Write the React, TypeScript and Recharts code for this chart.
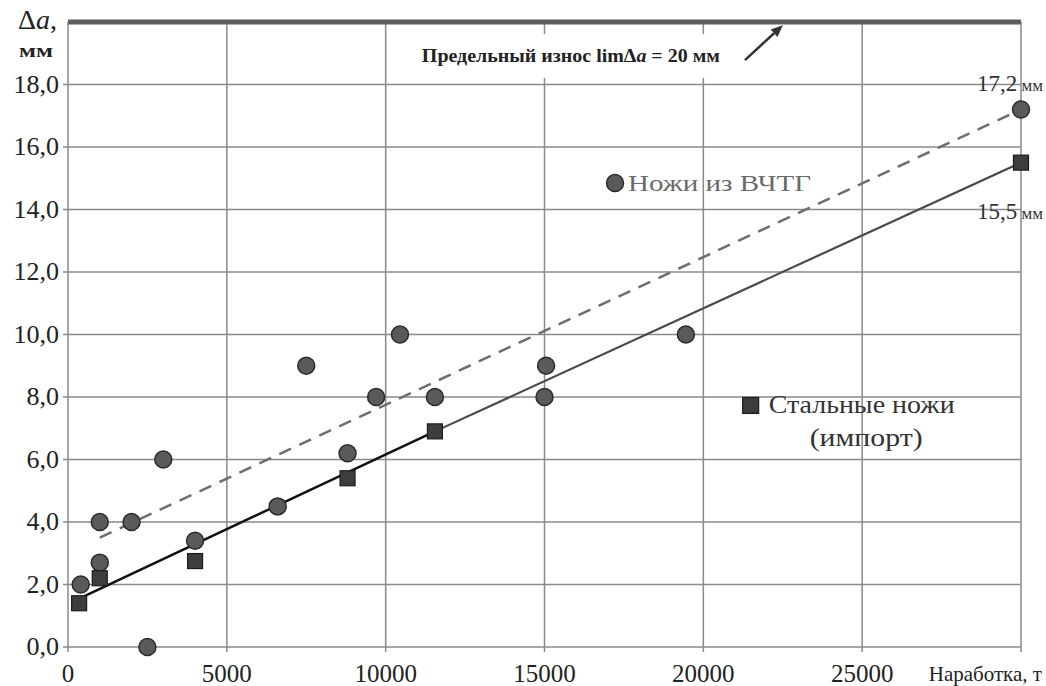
import React from 'react';
import { ComposedChart, Scatter, Line, XAxis, YAxis, CartesianGrid, ReferenceLine, ReferenceDot } from 'recharts';

const FONT = 'Liberation Serif';

// Ножи из ВЧТГ (circles)
const vchtgPoints = [
  { x: 400, y: 2.0 }, { x: 1000, y: 4.0 }, { x: 1000, y: 2.7 }, { x: 2000, y: 4.0 },
  { x: 2500, y: 0.0 }, { x: 3000, y: 6.0 }, { x: 4000, y: 3.4 }, { x: 6600, y: 4.5 },
  { x: 7500, y: 9.0 }, { x: 8800, y: 6.2 }, { x: 9700, y: 8.0 }, { x: 10450, y: 10.0 },
  { x: 11550, y: 8.0 }, { x: 15050, y: 9.0 }, { x: 15000, y: 8.0 }, { x: 19450, y: 10.0 },
  { x: 30000, y: 17.2 },
];

// Стальные ножи (импорт) (squares)
const steelPoints = [
  { x: 350, y: 1.4 }, { x: 1000, y: 2.2 }, { x: 4000, y: 2.75 }, { x: 8800, y: 5.4 },
  { x: 11550, y: 6.9 }, { x: 30000, y: 15.5 },
];

// trend lines
const vchtgTrend = [{ x: 1000, y: 3.5 }, { x: 30000, y: 17.2 }];
const steelTrendEarly = [{ x: 350, y: 1.55 }, { x: 11550, y: 6.9 }];
const steelTrendLate = [{ x: 11550, y: 6.9 }, { x: 30000, y: 15.5 }];

const xTicks = [0, 5000, 10000, 15000, 20000, 25000, 30000];
const yTicks = [0, 2, 4, 6, 8, 10, 12, 14, 16, 18];
const LIMIT = 20;
const X_TITLE = 'Наработка, т';

const fmtY = (v: number) => v.toFixed(1).replace('.', ',');

const CircleDot = ({ cx, cy }: any) => (
  <circle cx={cx} cy={cy} r={8.5} fill="#5a5a5a" stroke="#2b2b2b" strokeWidth={1.5} />
);

const SquareDot = ({ cx, cy }: any) => (
  <rect x={cx - 7.5} y={cy - 7.5} width={15} height={15} fill="#3d3d3d" stroke="#1c1c1c" strokeWidth={1.2} />
);

const XTick = ({ x, y, payload }: any) => {
  if (payload.value === 30000) {
    return (
      <text x={x + 21} y={y + 27} textAnchor="end" style={{ fontFamily: FONT }} fontSize={21} fill="#222">
        {X_TITLE}
      </text>
    );
  }
  return (
    <text x={x} y={y + 28} textAnchor="middle" style={{ fontFamily: FONT }} fontSize={25} fill="#222">
      {payload.value}
    </text>
  );
};

const YTick = ({ x, y, payload }: any) => (
  <text x={x} y={y + 8} textAnchor="end" style={{ fontFamily: FONT }} fontSize={26} fill="#222">
    {fmtY(payload.value)}
  </text>
);

const Arrow = ({ x1, y1, x2, y2 }: any) => {
  const ang = Math.atan2(y2 - y1, x2 - x1);
  const len = 12;
  const w = 5;
  const bx = x2 - len * Math.cos(ang);
  const by = y2 - len * Math.sin(ang);
  const px = -Math.sin(ang) * w;
  const py = Math.cos(ang) * w;
  return (
    <g>
      <line x1={x1} y1={y1} x2={bx} y2={by} stroke="#333" strokeWidth={2.5} />
      <polygon points={`${x2},${y2} ${bx + px},${by + py} ${bx - px},${by - py}`} fill="#333" />
    </g>
  );
};

export default function App() {
  return (
    <div style={{ position: 'absolute', left: 0, top: 0, width: 1046, height: 686, background: '#fff' }}>
      <ComposedChart width={1046} height={686} margin={{ top: 22, right: 25, left: 0, bottom: 0 }}>
        <CartesianGrid stroke="#8a8a8a" strokeWidth={1.5} />
        <XAxis
          type="number"
          dataKey="x"
          domain={[0, 30000]}
          ticks={xTicks}
          height={39}
          axisLine={false}
          tickSize={5}
          tickLine={{ stroke: '#8a8a8a', strokeWidth: 1.5 }}
          tick={<XTick />}
          interval={0}
        />
        <YAxis
          type="number"
          dataKey="y"
          domain={[0, LIMIT]}
          ticks={yTicks}
          width={68}
          axisLine={false}
          tickSize={5}
          tickMargin={4}
          tickLine={{ stroke: '#8a8a8a', strokeWidth: 1.5 }}
          tick={<YTick />}
          interval={0}
        />

        <Line data={steelTrendEarly} dataKey="y" type="linear" stroke="#111" strokeWidth={2.5} dot={false} isAnimationActive={false} />
        <Line data={steelTrendLate} dataKey="y" type="linear" stroke="#4a4a4a" strokeWidth={2.2} dot={false} isAnimationActive={false} />
        <Line data={vchtgTrend} dataKey="y" type="linear" stroke="#6e6e6e" strokeWidth={2.5} strokeDasharray="13 9" dot={false} isAnimationActive={false} />

        <Scatter data={vchtgPoints} shape={<CircleDot />} isAnimationActive={false} />
        <Scatter data={steelPoints} shape={<SquareDot />} isAnimationActive={false} />

        <ReferenceLine y={LIMIT} stroke="#5e5e5e" strokeWidth={5} />

        {/* limit label */}
        <ReferenceDot
          x={15830}
          y={18.72}
          r={0}
          shape={({ cx, cy }: any) => (
            <g>
              <rect x={cx - 170} y={cy - 28} width={336} height={44} fill="#fff" />
              <text x={cx} y={cy} textAnchor="middle" style={{ fontFamily: FONT }} fontSize={19} fontWeight="bold" fill="#222" textLength={298} lengthAdjust="spacingAndGlyphs">
                Предельный износ lim<tspan>Δ</tspan><tspan fontStyle="italic">a</tspan> = 20 мм
              </text>
            </g>
          )}
        />
        <ReferenceLine segment={[{ x: 21310, y: 18.78 }, { x: 22505, y: 19.9 }]} shape={<Arrow />} />

        {/* axis title */}
        <ReferenceDot
          x={0}
          y={LIMIT}
          r={0}
          shape={({ cx, cy }: any) => (
            <g fill="#222">
              <text x={cx - 50} y={cy + 7} fontSize={28} style={{ fontFamily: FONT }}>
                Δ<tspan fontStyle="italic">a</tspan>,
              </text>
              <text x={cx - 49} y={cy + 35} fontSize={18} fontWeight="bold" style={{ fontFamily: FONT }} textLength={34} lengthAdjust="spacingAndGlyphs">мм</text>
            </g>
          )}
        />

        {/* end values */}
        <ReferenceDot
          x={30000}
          y={17.2}
          r={0}
          shape={({ cx, cy }: any) => (
            <text x={cx + 22} y={cy - 19} textAnchor="end" style={{ fontFamily: FONT }} fill="#333">
              <tspan fontSize={23}>17,2</tspan><tspan fontSize={17}> мм</tspan>
            </text>
          )}
        />
        <ReferenceDot
          x={30000}
          y={15.5}
          r={0}
          shape={({ cx, cy }: any) => (
            <text x={cx + 22} y={cy + 56} textAnchor="end" style={{ fontFamily: FONT }} fill="#333">
              <tspan fontSize={23}>15,5</tspan><tspan fontSize={17}> мм</tspan>
            </text>
          )}
        />

        {/* legend items */}
        <ReferenceDot
          x={17220}
          y={14.85}
          r={0}
          shape={({ cx, cy }: any) => (
            <g>
              <circle cx={cx} cy={cy} r={8.5} fill="#5a5a5a" stroke="#2b2b2b" strokeWidth={1.5} />
              <text x={cx + 13} y={cy + 8} style={{ fontFamily: FONT }} fontSize={24} fill="#6a6a6a" textLength={183} lengthAdjust="spacingAndGlyphs">
                Ножи из ВЧТГ
              </text>
            </g>
          )}
        />
        <ReferenceDot
          x={21490}
          y={7.73}
          r={0}
          shape={({ cx, cy }: any) => (
            <g fill="#333">
              <rect x={cx - 8} y={cy - 8} width={16} height={16} fill="#3d3d3d" stroke="#1c1c1c" strokeWidth={1.2} />
              <text x={cx + 18} y={cy + 8} fontSize={25} style={{ fontFamily: FONT }} textLength={186} lengthAdjust="spacingAndGlyphs">Стальные ножи</text>
              <text x={cx + 59} y={cy + 41} fontSize={25} style={{ fontFamily: FONT }} textLength={113} lengthAdjust="spacingAndGlyphs">(импорт)</text>
            </g>
          )}
        />
      </ComposedChart>
    </div>
  );
}
